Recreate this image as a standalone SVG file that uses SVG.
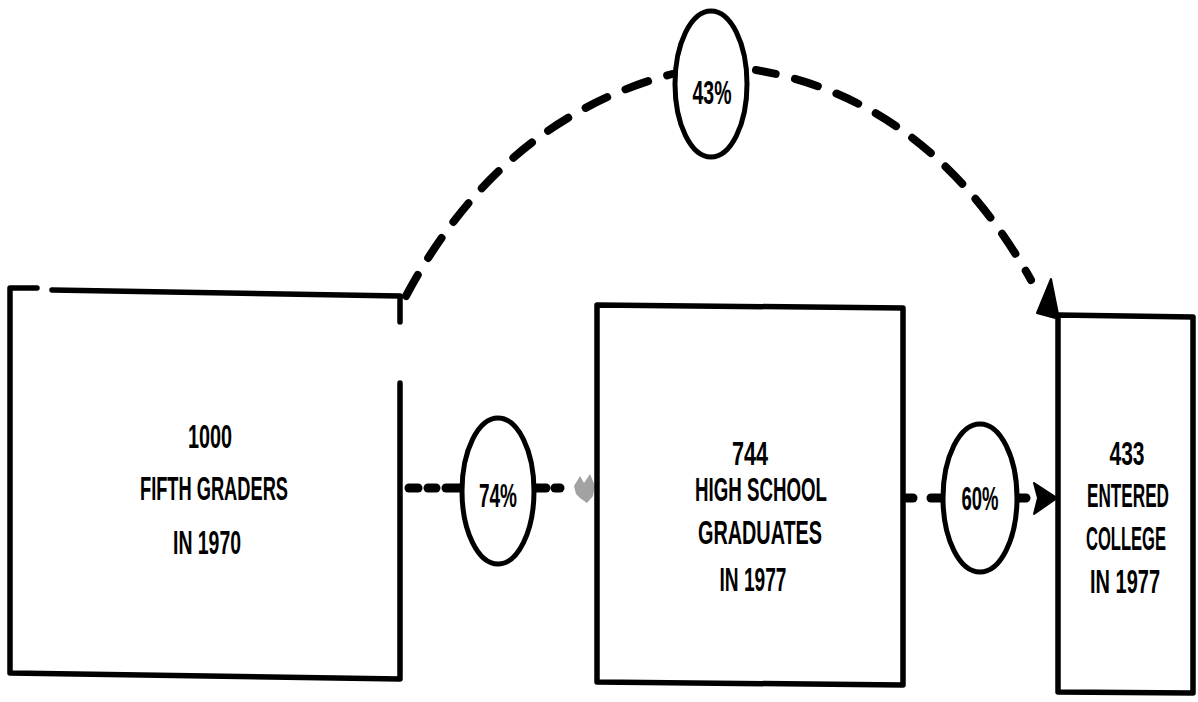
<svg xmlns="http://www.w3.org/2000/svg" width="1198" height="702" viewBox="0 0 1198 702">
  <style>
    .edge { fill: none; stroke: #000; stroke-width: 5.5; stroke-linecap: round; stroke-linejoin: round; }
    .ring { fill: #fff; stroke: #000; stroke-width: 5; }
    .dash { fill: none; stroke: #000; stroke-width: 9; stroke-linecap: round; }
    .arc { fill: none; stroke: #000; stroke-width: 8; stroke-linecap: round; stroke-dasharray: 24 20; }
    .lbl { font-family: "Liberation Sans Narrow", "Liberation Sans", Arial, sans-serif; font-weight: bold; font-size: 34px; fill: #000; text-anchor: middle; }
    .tall { font-size: 22px; }
    .head { fill: #000; stroke: #000; stroke-width: 2; stroke-linejoin: round; }
  </style>

  <rect width="1198" height="702" fill="#fff"/>

  <!-- connectors -->
  <g id="connectors">
    <!-- upper arc: fifth graders to college entry -->
    <path class="arc" d="M406,296 Q 500,120 672,74"/>
    <path class="arc" d="M756,70 Q 930,100 1031,280" stroke-dashoffset="4"/>
    <polygon class="head" points="1051,279 1037,313 1059,319"/>

    <!-- fifth graders to high school graduates -->
    <line class="dash" x1="409" y1="488" x2="418" y2="488"/>
    <line class="dash" x1="428" y1="488" x2="436" y2="488"/>
    <line class="dash" x1="446" y1="488" x2="462" y2="488"/>
    <line class="dash" x1="536" y1="488" x2="546" y2="488"/>
    <line class="dash" x1="555" y1="488" x2="560" y2="488"/>
    <g fill="#555" opacity="0.55">
      <path d="M574,486 L580,476 L584,483 L590,474 L595,486 L593,496 L587,503 L580,498 L576,494 Z"/>
    </g>

    <!-- high school graduates to college entry -->
    <line class="dash" x1="906" y1="498" x2="913" y2="498"/>
    <line class="dash" x1="931" y1="498" x2="940" y2="498"/>
    <line class="dash" x1="1018" y1="498" x2="1026" y2="498"/>
    <polygon class="head" points="1034,483 1057,498 1034,514 1038,498"/>
  </g>

  <!-- node: fifth graders -->
  <g id="fifth-graders">
    <path class="edge" d="M37,288 L10,288 L10,673 L400,679 L400,383"/>
    <path class="edge" d="M52,290 L400,296 L400,322"/>
    <text class="lbl" x="210" y="448" textLength="44" lengthAdjust="spacingAndGlyphs">1000</text>
    <text class="lbl" x="214" y="500" textLength="148" lengthAdjust="spacingAndGlyphs">FIFTH GRADERS</text>
    <text class="lbl" x="207" y="554" textLength="68" lengthAdjust="spacingAndGlyphs">IN 1970</text>
  </g>

  <!-- node: high school graduates -->
  <g id="hs-graduates">
    <path class="edge" d="M597,305 L903,308 L903,685 L597,682 Z"/>
    <text class="lbl" x="750" y="465" textLength="36" lengthAdjust="spacingAndGlyphs">744</text>
    <text class="lbl" x="761" y="501" textLength="132" lengthAdjust="spacingAndGlyphs">HIGH SCHOOL</text>
    <text class="lbl" x="760" y="544" textLength="124" lengthAdjust="spacingAndGlyphs">GRADUATES</text>
    <text class="lbl" x="753" y="591" textLength="67" lengthAdjust="spacingAndGlyphs">IN 1977</text>
  </g>

  <!-- node: entered college (narrow box, so the lettering is stretched upward) -->
  <g id="entered-college">
    <path class="edge" d="M1058,315 L1193,317 L1193,693 L1058,692 Z"/>
    <g transform="scale(1,1.55)">
      <text class="lbl tall" x="1127" y="300" textLength="35" lengthAdjust="spacingAndGlyphs">433</text>
      <text class="lbl tall" x="1128" y="327.1" textLength="82" lengthAdjust="spacingAndGlyphs">ENTERED</text>
      <text class="lbl tall" x="1126" y="354.8" textLength="80" lengthAdjust="spacingAndGlyphs">COLLEGE</text>
      <text class="lbl tall" x="1125" y="382.6" textLength="70" lengthAdjust="spacingAndGlyphs">IN 1977</text>
    </g>
  </g>

  <!-- rate circles -->
  <g id="rate-43">
    <ellipse class="ring" cx="711" cy="84" rx="36" ry="73"/>
    <text class="lbl" x="712" y="104" textLength="39" lengthAdjust="spacingAndGlyphs">43%</text>
  </g>
  <g id="rate-74">
    <ellipse class="ring" cx="498" cy="491" rx="36" ry="73"/>
    <text class="lbl" x="498" y="507" textLength="38" lengthAdjust="spacingAndGlyphs">74%</text>
  </g>
  <g id="rate-60">
    <ellipse class="ring" cx="980" cy="498" rx="37" ry="74"/>
    <text class="lbl" x="980" y="510" textLength="37" lengthAdjust="spacingAndGlyphs">60%</text>
  </g>
</svg>
